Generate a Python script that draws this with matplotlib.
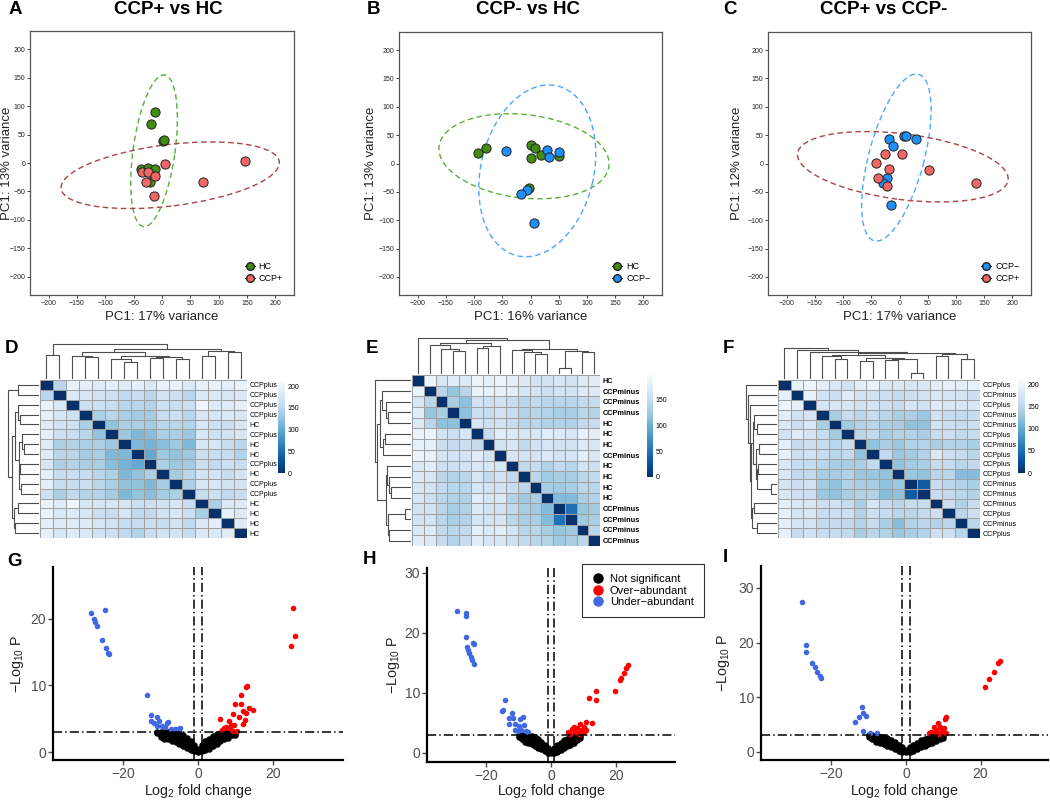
import numpy as np
import matplotlib
matplotlib.use("Agg")
import matplotlib.pyplot as plt
from matplotlib.patches import Ellipse
from matplotlib.lines import Line2D

plt.rcParams['font.family'] = ['Liberation Sans', 'DejaVu Sans']
plt.rcParams['mathtext.fontset'] = 'custom'
plt.rcParams['mathtext.rm'] = 'Liberation Sans'
plt.rcParams['mathtext.it'] = 'Liberation Sans:italic'
plt.rcParams['mathtext.bf'] = 'Liberation Sans:bold'

# ---------------- PCA data ----------------
a_hc_x = [-13, -20, 1, 4, -37, -24, -12, -22]
a_hc_y = [89, 69, 38, 40, -11, -8, -11, -33]
a_ccpp_x = [6, -36, -25, -12, -28, -15, 72, 146]
a_ccpp_y = [-2, -16, -16, -23, -33, -58, -34, 3]

b_hc_x = [-93, -79, 1, 8, 19, 50, 1, -2]
b_hc_y = [18, 28, 32, 28, 15, 13, 9, -44]
b_ccpm_x = [-43, 30, 33, 50, -7, -16, 7]
b_ccpm_y = [22, 23, 12, 21, -47, -53, -105]

c_ccpm_x = [-18, 8, 11, 30, -11, -23, -29, -15]
c_ccpm_y = [44, 48, 48, 44, 31, -25, -35, -74]
c_ccpp_x = [-25, 5, -41, -18, -38, -23, 52, 136]
c_ccpp_y = [17, 17, 1, -10, -25, -40, -12, -35]

# ellipses: centre x, centre y, major, minor, angle
a_hc_ell = (-14, 21.5, 269, 74, 82)
a_ccpp_ell = (14.5, -21.5, 388, 108, 7)
b_hc_ell = (-11.5, 12.8, 303, 147, -6.6)
b_ccpm_ell = (12, -13, 308, 200, 76.5)
c_ccpm_ell = (-5.5, 10.5, 304, 98, 75)
c_ccpp_ell = (5.9, -5.7, 376, 116, -7.2)

# ---------------- sample distance heatmaps ----------------
d_labels = ['CCPplus', 'CCPplus', 'CCPplus', 'CCPplus', 'HC', 'CCPplus', 'HC', 'HC',
            'CCPplus', 'HC', 'CCPplus', 'CCPplus', 'HC', 'HC', 'HC', 'HC']
d_dist = [
    [0, 150, 195, 190, 185, 190, 185, 190, 180, 195, 195, 180, 195, 195, 190, 195],
    [150, 0, 180, 175, 170, 165, 155, 160, 150, 170, 165, 150, 180, 180, 175, 180],
    [195, 180, 0, 165, 165, 160, 150, 150, 145, 165, 160, 165, 200, 185, 185, 190],
    [190, 175, 165, 0, 140, 150, 140, 135, 135, 160, 165, 150, 175, 175, 180, 175],
    [185, 170, 165, 140, 0, 125, 140, 140, 135, 150, 150, 145, 175, 165, 165, 175],
    [190, 165, 160, 150, 125, 0, 130, 115, 120, 140, 140, 130, 175, 165, 170, 175],
    [185, 140, 145, 140, 140, 130, 0, 115, 110, 120, 130, 115, 175, 175, 160, 150],
    [185, 150, 150, 135, 140, 115, 115, 0, 100, 130, 125, 130, 165, 160, 160, 145],
    [175, 140, 145, 140, 140, 120, 110, 100, 0, 140, 130, 135, 165, 155, 165, 160],
    [190, 160, 160, 160, 150, 140, 115, 125, 140, 0, 135, 150, 170, 170, 160, 170],
    [190, 160, 160, 165, 150, 140, 125, 125, 115, 135, 0, 140, 175, 175, 170, 170],
    [165, 140, 155, 145, 145, 135, 115, 125, 120, 135, 140, 0, 160, 165, 155, 160],
    [195, 185, 200, 175, 175, 175, 175, 165, 165, 170, 175, 160, 0, 140, 180, 180],
    [195, 180, 185, 175, 165, 160, 175, 155, 155, 170, 175, 165, 140, 0, 190, 180],
    [190, 185, 185, 185, 175, 170, 160, 160, 165, 160, 170, 155, 180, 190, 0, 185],
    [190, 175, 185, 180, 170, 165, 155, 145, 160, 170, 170, 160, 180, 180, 185, 0],
]
d_tree = [[0, 1, 0.66],
          [[[2, [3, 4, 0.59], 0.64],
            [[5, [6, 7, 0.46], 0.53], [[8, 9, 0.58], [10, 11, 0.55], 0.6], 0.62], 0.75],
           [[12, 13, 0.63], [14, 15, 0.74], 0.78], 0.84], 0.97]

e_labels = ['HC', 'CCPminus', 'CCPminus', 'CCPminus', 'HC', 'HC', 'HC', 'CCPminus',
            'HC', 'HC', 'HC', 'HC', 'CCPminus', 'CCPminus', 'CCPminus', 'CCPminus']
e_dist = [
    [0, 185, 165, 175, 170, 185, 180, 185, 175, 170, 160, 160, 165, 160, 170, 175],
    [185, 0, 140, 120, 140, 185, 180, 180, 175, 165, 160, 155, 160, 160, 170, 170],
    [165, 140, 0, 130, 115, 160, 155, 160, 150, 140, 145, 140, 140, 140, 145, 150],
    [175, 120, 130, 0, 115, 155, 150, 160, 150, 135, 140, 135, 130, 130, 140, 135],
    [170, 140, 115, 115, 0, 165, 155, 160, 150, 140, 140, 135, 135, 135, 145, 150],
    [185, 185, 160, 155, 165, 0, 150, 175, 170, 165, 165, 175, 170, 165, 180, 175],
    [180, 180, 155, 150, 155, 150, 0, 160, 165, 145, 160, 165, 160, 160, 170, 165],
    [185, 180, 160, 160, 160, 175, 160, 0, 165, 160, 160, 170, 160, 165, 175, 165],
    [170, 175, 155, 155, 160, 170, 165, 165, 0, 145, 150, 135, 145, 140, 160, 155],
    [170, 165, 140, 135, 140, 165, 145, 160, 145, 0, 140, 125, 130, 130, 140, 145],
    [165, 160, 145, 140, 140, 165, 160, 160, 150, 140, 0, 130, 125, 130, 140, 140],
    [165, 155, 140, 135, 135, 175, 165, 170, 135, 125, 130, 0, 110, 110, 130, 135],
    [160, 160, 140, 130, 135, 170, 160, 160, 145, 130, 125, 110, 0, 50, 120, 125],
    [160, 160, 140, 130, 135, 165, 160, 165, 140, 130, 130, 110, 50, 0, 125, 130],
    [170, 170, 145, 140, 145, 180, 170, 175, 160, 140, 140, 130, 120, 125, 0, 140],
    [175, 170, 150, 135, 150, 175, 165, 165, 155, 145, 140, 135, 125, 130, 140, 0],
]
e_tree = [0,
          [[[1, [2, [3, 4, 0.63], 0.7], 0.79], [[5, 6, 0.72], 7, 0.78], 0.86],
           [[8, [9, [10, 11, 0.55], 0.6], 0.66], [[12, 13, 0.14], [14, 15, 0.6], 0.64], 0.7],
           0.93], 1.0]

f_labels = ['CCPplus', 'CCPminus', 'CCPplus', 'CCPminus', 'CCPminus', 'CCPplus', 'CCPminus', 'CCPplus',
            'CCPplus', 'CCPplus', 'CCPminus', 'CCPminus', 'CCPminus', 'CCPplus', 'CCPminus', 'CCPplus']
f_dist = [
    [0, 195, 200, 190, 180, 170, 190, 195, 180, 180, 175, 180, 190, 195, 190, 195],
    [195, 0, 195, 170, 165, 185, 170, 170, 165, 160, 165, 170, 180, 175, 175, 165],
    [200, 195, 0, 175, 180, 175, 170, 170, 165, 160, 175, 170, 185, 180, 175, 180],
    [190, 170, 175, 0, 140, 160, 150, 160, 150, 140, 140, 130, 170, 160, 155, 160],
    [180, 165, 180, 140, 0, 135, 145, 150, 140, 140, 125, 125, 170, 165, 160, 165],
    [170, 185, 175, 160, 135, 0, 150, 155, 140, 145, 145, 140, 160, 165, 155, 160],
    [190, 160, 165, 160, 150, 160, 0, 125, 140, 130, 145, 145, 140, 145, 145, 140],
    [195, 165, 170, 160, 150, 155, 125, 0, 155, 130, 135, 145, 180, 165, 160, 150],
    [180, 160, 160, 150, 140, 140, 140, 155, 0, 125, 135, 140, 160, 160, 150, 155],
    [180, 155, 155, 140, 140, 145, 130, 130, 125, 0, 130, 125, 150, 150, 120, 120],
    [175, 165, 170, 135, 125, 145, 140, 140, 125, 130, 0, 35, 160, 150, 145, 140],
    [180, 165, 165, 130, 125, 140, 145, 145, 120, 125, 35, 0, 160, 155, 150, 145],
    [190, 180, 180, 165, 170, 160, 140, 175, 160, 150, 160, 160, 0, 165, 145, 160],
    [195, 175, 180, 160, 165, 165, 145, 165, 160, 150, 150, 155, 165, 0, 150, 165],
    [190, 175, 175, 155, 160, 155, 145, 160, 140, 120, 145, 150, 145, 150, 0, 150],
    [195, 160, 170, 160, 160, 155, 140, 150, 145, 130, 140, 145, 165, 165, 150, 0],
]
f_tree = [0,
          [1,
           [2,
            [[[3, [4, 5, 0.6], 0.7],
              [[6, 7, 0.55], [[8, 9, 0.58], [10, 11, 0.15], 0.62], 0.66], 0.74],
             [[12, 13, 0.7], [14, 15, 0.62], 0.78], 0.8],
            0.85],
           0.9],
          0.98]

# ---------------- volcano data ----------------
g_ns_x = [-11, -11, -10, -10, -10, -9, -9, -9, -9, -8, -8, -8, -8, -7, -7, -7, -7,
          -6, -6, -6, -6, -5, -5, -5, -5, -4, -4, -4, -4, -3, -3, -3, -3, -2, -2, -2, -2,
          -1, -1, -1, -1, 0, 0, 0, 1, 1, 1, 1, 2, 2, 2, 2, 3, 3, 3, 3, 4, 4, 4, 4,
          5, 5, 5, 5, 6, 6, 6, 6, 7, 7, 7, 7, 8, 8, 8, 8, 9, 9, 9, 10, 10]
g_ns_y = [3.0, 2.8, 3.0, 2.6, 2.3, 3.0, 2.7, 2.3, 2.0, 3.0, 2.6, 2.2, 1.9, 2.9, 2.5, 2.1, 1.7,
          2.9, 2.4, 1.9, 1.5, 2.8, 2.2, 1.7, 1.2, 2.5, 2.0, 1.4, 0.9, 2.1, 1.6, 1.1, 0.6,
          1.6, 1.1, 0.7, 0.3, 1.0, 0.6, 0.3, 0.1, 0.4, 0.15, 0.0, 1.0, 0.6, 0.3, 0.1,
          1.6, 1.1, 0.7, 0.3, 2.0, 1.5, 1.0, 0.5, 2.4, 1.9, 1.4, 0.9, 2.7, 2.2, 1.7, 1.2,
          2.9, 2.5, 2.0, 1.6, 3.0, 2.6, 2.2, 1.9, 3.0, 2.7, 2.4, 2.1, 3.0, 2.8, 2.5, 2.9, 2.6]
g_up_x = [25.4, 26.0, 24.7, 12.8, 13.2, 11.6, 10.0, 11.4, 13.5, 14.7, 11.9, 12.8, 9.3,
          10.9, 6.0, 8.2, 12.5, 11.9, 8.9, 9.6, 7.6, 6.9, 6.3, 8.5, 9.4, 10.3]
g_up_y = [21.6, 17.4, 16.0, 9.7, 9.9, 8.5, 7.2, 7.2, 6.6, 6.3, 6.2, 5.8, 5.7,
          5.3, 5.0, 4.7, 4.8, 4.2, 4.0, 4.0, 3.8, 3.6, 3.3, 3.5, 3.2, 3.1]
g_dn_x = [-28.5, -27.7, -27.5, -27.0, -25.5, -24.7, -24.5, -23.9, -23.7, -13.6, -12.5, -11.0,
          -12.5, -11.7, -10.3, -11.0, -9.7, -8.3, -7.9, -8.8, -7.1, -6.2, -4.9, -5.3]
g_dn_y = [20.9, 20.0, 19.6, 19.0, 16.9, 21.3, 15.7, 14.9, 14.7, 8.5, 5.6, 5.2,
          4.6, 4.3, 4.6, 3.9, 3.9, 4.3, 4.5, 3.7, 3.4, 3.5, 3.6, 3.4]

h_ns_x = [-10, -10, -9, -9, -9, -8, -8, -8, -8, -7, -7, -7, -7, -6, -6, -6, -6,
          -5, -5, -5, -5, -4, -4, -4, -4, -3, -3, -3, -3, -2, -2, -2, -2, -1, -1, -1, -1,
          0, 0, 0, 1, 1, 1, 1, 2, 2, 2, 2, 3, 3, 3, 3, 4, 4, 4, 4, 5, 5, 5, 5,
          6, 6, 6, 6, 7, 7, 7, 7, 8, 8, 8, 9, 9]
h_ns_y = [3.0, 2.7, 3.0, 2.7, 2.3, 3.0, 2.6, 2.2, 1.9, 2.9, 2.5, 2.1, 1.7, 2.8, 2.4, 1.9, 1.5,
          2.6, 2.1, 1.6, 1.2, 2.3, 1.8, 1.3, 0.9, 1.9, 1.4, 1.0, 0.6, 1.4, 1.0, 0.6, 0.3,
          0.9, 0.5, 0.2, 0.05, 0.3, 0.1, 0.0, 0.9, 0.5, 0.2, 0.05, 1.3, 0.9, 0.5, 0.2,
          1.7, 1.3, 0.9, 0.5, 2.1, 1.6, 1.2, 0.8, 2.4, 1.9, 1.5, 1.1, 2.6, 2.2, 1.8, 1.4,
          2.8, 2.4, 2.0, 1.7, 2.9, 2.6, 2.2, 2.9, 2.5]
h_up_x = [23.7, 23.1, 22.5, 21.8, 21.5, 19.7, 13.9, 14.0, 11.8, 12.7, 10.7, 8.9, 10.1,
          5.4, 7.0, 8.1, 9.1, 10.2, 7.5, 6.5, 8.6, 10.8, 6.0]
h_up_y = [14.6, 14.1, 13.3, 12.5, 12.2, 10.3, 10.3, 8.9, 9.2, 5.0, 5.1, 4.9, 4.3,
          3.5, 4.4, 4.1, 3.8, 3.5, 3.5, 4.0, 3.2, 3.8, 3.2]
h_dn_x = [-29.0, -26.4, -26.2, -26.2, -26.0, -25.8, -25.3, -24.1, -23.8, -24.9, -24.4, -23.9,
          -14.3, -15.3, -15.0, -12.2, -12.9, -11.9, -9.6, -8.6, -13.1, -11.1, -9.8, -8.3,
          -11.1, -9.3, -7.7, -7.1, -10.2]
h_dn_y = [23.7, 23.3, 22.8, 19.3, 17.6, 17.2, 16.7, 18.3, 18.1, 15.9, 15.5, 14.8,
          8.8, 7.0, 7.2, 6.7, 5.8, 5.8, 5.6, 6.0, 4.9, 4.9, 4.5, 4.6,
          3.8, 3.8, 3.7, 3.5, 3.6]

i_ns_x = [-10, -10, -9, -9, -9, -8, -8, -8, -8, -7, -7, -7, -7, -6, -6, -6, -6,
          -5, -5, -5, -5, -4, -4, -4, -4, -3, -3, -3, -3, -2, -2, -2, -2, -1, -1, -1, -1,
          0, 0, 0, 1, 1, 1, 1, 2, 2, 2, 2, 3, 3, 3, 3, 4, 4, 4, 4, 5, 5, 5, 5,
          6, 6, 6, 6, 7, 7, 7, 7, 8, 8, 8, 8, 9, 9, 9, 10, 10]
i_ns_y = [3.0, 2.7, 3.0, 2.6, 2.3, 2.9, 2.5, 2.1, 1.8, 2.8, 2.4, 2.0, 1.6, 2.7, 2.2, 1.8, 1.4,
          2.5, 2.0, 1.5, 1.1, 2.2, 1.7, 1.2, 0.8, 1.8, 1.3, 0.9, 0.5, 1.3, 0.9, 0.5, 0.2,
          0.8, 0.4, 0.2, 0.05, 0.3, 0.1, 0.0, 0.8, 0.4, 0.2, 0.05, 1.3, 0.9, 0.5, 0.2,
          1.7, 1.3, 0.9, 0.5, 2.1, 1.6, 1.2, 0.8, 2.4, 1.9, 1.5, 1.1, 2.6, 2.2, 1.8, 1.4,
          2.8, 2.4, 2.0, 1.7, 2.9, 2.6, 2.3, 2.0, 3.0, 2.7, 2.4, 2.9, 2.6]
i_up_x = [25.1, 24.8, 23.5, 22.4, 21.3, 10.7, 10.4, 8.6, 9.1, 7.6, 10.2, 6.7, 8.0, 9.3,
          10.2, 6.3, 7.6, 8.9, 10.7]
i_up_y = [16.6, 16.2, 14.6, 13.3, 11.9, 6.4, 6.0, 5.2, 4.6, 4.6, 4.3, 3.7, 4.0, 3.7,
          3.6, 3.4, 3.4, 3.3, 3.4]
i_dn_x = [-28.0, -26.7, -26.8, -25.1, -24.5, -23.8, -23.1, -22.9, -11.9, -12.5, -11.6, -10.8,
          -13.6, -11.6, -9.6, -7.8]
i_dn_y = [27.4, 19.6, 18.3, 16.3, 15.5, 14.6, 13.8, 13.5, 8.2, 6.3, 7.1, 6.6,
          5.4, 3.8, 3.4, 3.5]

HC_COL, CCPP_COL, CCPM_COL = '#428C14', '#F26666', '#1E8FFF'
HC_ELL, CCPP_ELL, CCPM_ELL = '#5AAE3A', '#A94444', '#4DA6FF'

W, H = 1050, 800
fig = plt.figure(figsize=(10.5, 8), dpi=100)


def box(l, t, w, h):
    return [l / W, 1 - (t + h) / H, w / W, h / H]


def pca_panel(rect, groups, xlab, ylab, ylab_x):
    ax = fig.add_axes(box(*rect))
    handles = []
    for xs, ys, col, ell, ecol, lab in groups:
        cx, cy, w, h, ang = ell
        ax.add_patch(Ellipse((cx, cy), w, h, angle=ang, fill=False, ec=ecol,
                             ls=(0, (4, 2.5)), lw=1.0))
        ax.scatter(xs, ys, s=44, c=col, edgecolors='#222222', linewidths=0.7, zorder=3)
        handles.append(Line2D([0], [0], marker='o', color='#222222', lw=0.8,
                              markerfacecolor=col, markeredgecolor='#222222',
                              markersize=5.5, label=lab))
    ax.legend(handles=handles, loc='lower right', frameon=False, fontsize=6.5,
              handlelength=1.1, handletextpad=0.4, borderaxespad=0.9, labelspacing=0.35)
    ax.set_xlim(-233, 233)
    ax.set_ylim(-232, 232)
    ax.set_xticks(range(-200, 201, 50))
    ax.set_yticks(range(-200, 201, 50))
    ax.tick_params(labelsize=5, length=2, width=0.6, colors='#222222', pad=1.5)
    for sp in ax.spines.values():
        sp.set_color('#555555')
        sp.set_linewidth(0.9)
    ax.set_xlabel(xlab, fontsize=9.5, labelpad=3, color='#222222')
    fig.text(ylab_x / W, 1 - 163 / H, ylab, rotation=90, ha='center', va='center',
             fontsize=9.5, color='#222222')


def draw_tree(ax, node, orient):
    if isinstance(node, int):
        return node + 0.5, 0.0
    left, right, h = node
    xl, hl = draw_tree(ax, left, orient)
    xr, hr = draw_tree(ax, right, orient)
    xs = [xl, xl, xr, xr]
    hs = [hl, h, h, hr]
    if orient == 'top':
        ax.plot(xs, hs, color='#4D4D4D', lw=0.8, clip_on=False)
    else:
        ax.plot(hs, xs, color='#4D4D4D', lw=0.8, clip_on=False)
    return (xl + xr) / 2, h


def heat_panel(cells, top_d, left_d, cbar, mat, labels, tree, vmax, cticks, labsize, labweight):
    axh = fig.add_axes(box(*cells))
    mesh = axh.pcolormesh(np.array(mat, dtype=float), cmap='Blues_r', vmin=0, vmax=vmax,
                          edgecolors='#A0A0A0', linewidth=0.6)
    axh.set_xlim(0, 16)
    axh.set_ylim(16, 0)
    axh.set_xticks([])
    axh.yaxis.tick_right()
    axh.set_yticks(np.arange(16) + 0.5)
    axh.set_yticklabels(labels, fontsize=labsize, fontweight=labweight)
    axh.tick_params(axis='y', length=0, pad=2)
    for sp in axh.spines.values():
        sp.set_visible(False)

    axt = fig.add_axes(box(*top_d))
    draw_tree(axt, tree, 'top')
    axt.set_xlim(0, 16)
    axt.set_ylim(0, 1.0)
    axt.axis('off')

    axl = fig.add_axes(box(*left_d))
    draw_tree(axl, tree, 'left')
    axl.set_xlim(1.0, 0)
    axl.set_ylim(16, 0)
    axl.axis('off')

    cax = fig.add_axes(box(*cbar))
    cb = fig.colorbar(mesh, cax=cax, ticks=cticks)
    cb.outline.set_visible(False)
    cax.tick_params(length=0, labelsize=5, pad=2)


def volcano(rect, ns, up, dn, xlim, ylim, yticks, ylab_x, legend=False):
    ax = fig.add_axes(box(*rect))
    ax.scatter(ns[0], ns[1], s=22, c='black', lw=0, zorder=2)
    ax.scatter(up[0], up[1], s=16, c='#FF0000', lw=0, zorder=2)
    ax.scatter(dn[0], dn[1], s=16, c='#4169E1', lw=0, zorder=2)
    dash = (0, (6, 2, 1, 2))
    ax.axvline(-1, color='black', lw=1.1, ls=dash, zorder=3)
    ax.axvline(1, color='black', lw=1.1, ls=dash, zorder=3)
    ax.axhline(3, color='black', lw=1.1, ls=dash, zorder=3)
    ax.set_xlim(*xlim)
    ax.set_ylim(*ylim)
    ax.set_xticks([-20, 0, 20])
    ax.set_yticks(yticks)
    for s in ['top', 'right']:
        ax.spines[s].set_visible(False)
    for s in ['left', 'bottom']:
        ax.spines[s].set_linewidth(1.6)
        ax.spines[s].set_color('black')
    ax.tick_params(labelsize=10, length=3.5, width=1, colors='#4D4D4D', pad=1.5)
    ax.set_xlabel('Log$_{2}$ fold change', fontsize=10.3, color='#222222', va='center')
    ax.xaxis.set_label_coords(0.5, (rect[1] + rect[3] - 791.5) / rect[3])
    ax.set_ylabel('\u2212Log$_{10}$ P', fontsize=10.3, color='#222222', va='center')
    ax.yaxis.set_label_coords((ylab_x - rect[0]) / rect[2], 0.5)
    if legend:
        handles = [Line2D([0], [0], marker='o', ls='', color=c, markersize=6.5, label=l)
                   for c, l in [('black', 'Not significant'), ('#FF0000', 'Over\u2212abundant'),
                                ('#4169E1', 'Under\u2212abundant')]]
        lg = ax.legend(handles=handles, loc='upper left', bbox_to_anchor=(582 / W, 1 - 564 / H),
                       bbox_transform=fig.transFigure, fontsize=8, frameon=True, fancybox=False,
                       edgecolor='black', handlelength=1.0, handletextpad=0.6,
                       labelspacing=0.15, borderpad=0.9, borderaxespad=0)
        lg.get_frame().set_linewidth(0.8)
    return ax


# ---- row 1: PCA ----
pca_panel((30, 31, 264, 264),
          [(a_hc_x, a_hc_y, HC_COL, a_hc_ell, HC_ELL, 'HC'),
           (a_ccpp_x, a_ccpp_y, CCPP_COL, a_ccpp_ell, CCPP_ELL, 'CCP+')],
          'PC1: 17% variance', 'PC1: 13% variance', 7)
pca_panel((399, 32, 263, 263),
          [(b_hc_x, b_hc_y, HC_COL, b_hc_ell, HC_ELL, 'HC'),
           (b_ccpm_x, b_ccpm_y, CCPM_COL, b_ccpm_ell, CCPM_ELL, 'CCP\u2212')],
          'PC1: 16% variance', 'PC1: 13% variance', 371)
pca_panel((768, 32, 263, 263),
          [(c_ccpm_x, c_ccpm_y, CCPM_COL, c_ccpm_ell, CCPM_ELL, 'CCP\u2212'),
           (c_ccpp_x, c_ccpp_y, CCPP_COL, c_ccpp_ell, CCPP_ELL, 'CCP+')],
          'PC1: 17% variance', 'PC1: 12% variance', 737)

# ---- row 2: heatmaps ----
heat_panel((40, 380, 207, 158), (40, 343, 207, 35), (7, 380, 31, 158), (278, 382, 7, 91),
           d_dist, d_labels, d_tree, 210, [0, 50, 100, 150, 200], 5, 'normal')
heat_panel((412, 375, 188, 171), (412, 338, 188, 35), (375, 375, 35, 171), (647, 375, 6, 102),
           e_dist, e_labels, e_tree, 197, [0, 50, 100, 150], 5.3, 'bold')
heat_panel((778, 380, 202, 158), (778, 347, 202, 31), (745, 380, 31, 158), (1018, 380, 7, 93),
           f_dist, f_labels, f_tree, 211, [0, 50, 100, 150, 200], 5.1, 'normal')

# ---- row 3: volcano plots ----
volcano((53, 567, 290, 193), (g_ns_x, g_ns_y), (g_up_x, g_up_y), (g_dn_x, g_dn_y),
        (-38.7, 38.7), (-1.2, 27.8), [0, 10, 20], 17)
volcano((427, 568, 248, 194), (h_ns_x, h_ns_y), (h_up_x, h_up_y), (h_dn_x, h_dn_y),
        (-38.4, 38.4), (-1.5, 30.8), [0, 10, 20, 30], 393, legend=True)
volcano((761, 566, 287, 194), (i_ns_x, i_ns_y), (i_up_x, i_up_y), (i_dn_x, i_dn_y),
        (-38.9, 38.1), (-1.5, 34), [0, 10, 20, 30], 724)

# ---- titles and panel letters ----
for x, t in [(168, 'CCP+ vs HC'), (528, 'CCP- vs HC'), (884, 'CCP+ vs CCP-')]:
    fig.text(x / W, 1 - 9 / H, t, ha='center', va='center', fontsize=13.5, fontweight='bold')
for x, y, t in [(15, 9, 'A'), (373, 9, 'B'), (730, 9, 'C'),
                (12, 348, 'D'), (372, 348, 'E'), (728, 348, 'F'),
                (15, 562, 'G'), (370, 559, 'H'), (725, 557, 'I')]:
    fig.text(x / W, 1 - y / H, t, ha='center', va='center', fontsize=13.5, fontweight='bold')

fig.savefig('out.png', dpi=100)
